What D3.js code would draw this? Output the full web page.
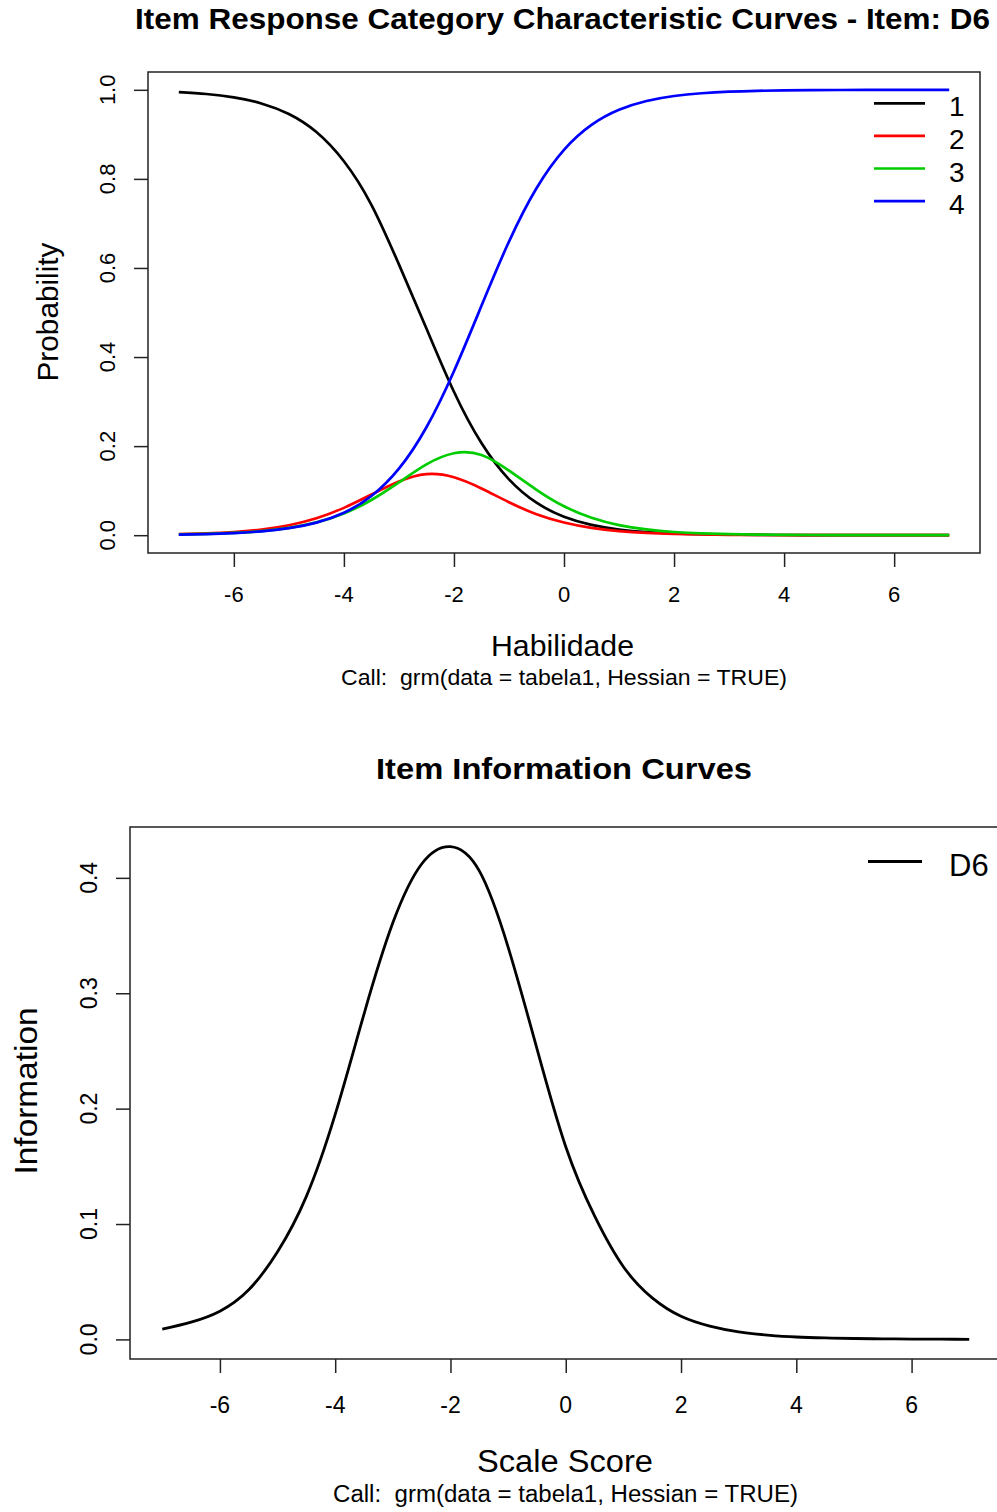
<!DOCTYPE html>
<html>
<head>
<meta charset="utf-8">
<script src="https://d3js.org/d3.v7.min.js"></script>
<style>
body { margin: 0; background: #fff; }
text { font-family: "Liberation Sans", Arial, sans-serif; fill: #000; white-space: pre; }
</style>
</head>
<body>
<svg width="997" height="1512"></svg>
<script>
// ability grid (read every half unit)
var theta = [-7,-6.5,-6,-5.5,-5,-4.5,-4,-3.5,-3,-2.5,-2,-1.5,-1,-0.5,0,0.5,1,1.5,2,2.5,3,3.5,4,4.5,5,5.5,6,6.5,7];

// category response curves, item D6
var cat1 = [0.9948,0.9906,0.9830,0.9694,0.9456,0.9052,0.8397,0.7419,0.6080,0.4641,0.3221,0.2068,0.1252,0.0729,0.0413,0.0231,0.0128,0.0071,0.0039,0.0021,0.0012,0.0006,0.0004,0.0002,0.0001,0.0001,0,0,0];
var cat2 = [0.0022,0.0040,0.0072,0.0127,0.0223,0.0379,0.0613,0.0912,0.1205,0.1370,0.1300,0.1049,0.0739,0.0471,0.0284,0.0164,0.0092,0.0051,0.0029,0.0016,0.0009,0.0005,0.0003,0.0001,0.0001,0,0,0,0];
var cat3 = [0.0016,0.0028,0.0051,0.0092,0.0164,0.0287,0.0488,0.0790,0.1185,0.1590,0.1840,0.1800,0.1450,0.1020,0.0650,0.0392,0.0227,0.0129,0.0072,0.0040,0.0022,0.0012,0.0007,0.0004,0.0002,0.0001,0.0001,0,0];
var cat4 = [0.0014,0.0026,0.0048,0.0087,0.0157,0.0282,0.0502,0.0879,0.1493,0.2423,0.3682,0.5150,0.6592,0.7790,0.8653,0.9213,0.9552,0.9749,0.9861,0.9923,0.9958,0.9977,0.9987,0.9993,0.9996,0.9998,0.9999,0.9999,1.0000];

// item information, D6
var info = [0.0089,0.0150,0.0245,0.0430,0.0760,0.1240,0.1950,0.2820,0.3610,0.4120,0.4270,0.4060,0.3400,0.2520,0.1670,0.1070,0.0630,0.0360,0.0200,0.0115,0.0065,0.0038,0.0021,0.0013,0.0008,0.0005,0.0003,0.0002,0.0001];

var catNames = ['1', '2', '3', '4'];
var catColors = ['#000000', '#ff0000', '#00cd00', '#0000ff'];
var xTicks = [-6, -4, -2, 0, 2, 4, 6];
var probTicks = [0, 0.2, 0.4, 0.6, 0.8, 1.0];
var infoTicks = [0, 0.1, 0.2, 0.3, 0.4];

var svg = d3.select('svg');

// R style 4% extension of the data range
function rExtent(vals) {
    var e = d3.extent(vals), pad = (e[1] - e[0]) * 0.04;
    return [e[0] - pad, e[1] + pad];
}

function addText(g, txt, x, y, size, opts) {
    opts = opts || {};
    var t = g.append('text')
        .attr('transform', 'translate(' + x + ',' + y + ')' + (opts.rotate ? ' rotate(-90)' : ''))
        .attr('text-anchor', opts.anchor || 'middle')
        .attr('xml:space', 'preserve')
        .style('font-size', size + 'px')
        .style('font-weight', opts.bold ? 'bold' : 'normal')
        .text(txt);
    if (opts.len) t.attr('textLength', opts.len).attr('lengthAdjust', 'spacingAndGlyphs');
    return t;
}

function drawPanel(cfg) {
    var g = svg.append('g');
    var x = d3.scaleLinear().domain(rExtent(theta)).range([cfg.left, cfg.right]);
    var y = d3.scaleLinear().domain(rExtent(d3.merge(cfg.series))).range([cfg.bottom, cfg.top]);

    var line = d3.line()
        .x(function(d, i) { return x(theta[i]); })
        .y(function(d) { return y(d); })
        .curve(d3.curveNatural);

    cfg.series.forEach(function(s, i) {
        g.append('path')
            .attr('d', line(s))
            .attr('fill', 'none')
            .attr('stroke', cfg.colors[i])
            .attr('stroke-width', cfg.lw)
            .attr('stroke-linejoin', 'round');
    });

    // x axis
    var xa = g.append('g')
        .attr('transform', 'translate(0,' + cfg.bottom + ')')
        .call(d3.axisBottom(x).tickValues(xTicks).tickSize(cfg.tick).tickFormat(''));
    xa.select('.domain').remove();
    xa.selectAll('line').attr('stroke', '#222').attr('stroke-width', 1.5);
    xTicks.forEach(function(v) {
        addText(g, String(v), x(v), cfg.xLabBase, cfg.tickFont);
    });

    // y axis
    var ya = g.append('g')
        .attr('transform', 'translate(' + cfg.left + ',0)')
        .call(d3.axisLeft(y).tickValues(cfg.yTicks).tickSize(cfg.tick).tickFormat(''));
    ya.select('.domain').remove();
    ya.selectAll('line').attr('stroke', '#222').attr('stroke-width', 1.5);
    cfg.yTicks.forEach(function(v) {
        addText(g, d3.format('.1f')(v), cfg.yLabBase, y(v), cfg.tickFont, {rotate: true});
    });

    // plot box
    g.append('rect')
        .attr('x', cfg.left).attr('y', cfg.top)
        .attr('width', cfg.right - cfg.left).attr('height', cfg.bottom - cfg.top)
        .attr('fill', 'none').attr('stroke', '#222').attr('stroke-width', 1.5);

    // legend
    cfg.names.forEach(function(n, i) {
        var ly = cfg.legY + i * 32.6;
        g.append('line')
            .attr('x1', cfg.legX1).attr('x2', cfg.legX2)
            .attr('y1', ly).attr('y2', ly)
            .attr('stroke', cfg.colors[i]).attr('stroke-width', cfg.lw);
        addText(g, n, cfg.legTextX, ly + cfg.legDy, cfg.legFont, {anchor: 'start'});
    });

    // titles
    addText(g, cfg.title, cfg.titleX, cfg.titleY, cfg.titleFont, {bold: true, len: cfg.titleLen});
    addText(g, cfg.xlab, cfg.xlabX, cfg.xlabY, cfg.labFont, {len: cfg.xlabLen});
    addText(g, cfg.ylab, cfg.ylabX, cfg.ylabY, cfg.labFont, {rotate: true, len: cfg.ylabLen});
    addText(g, 'Call:  grm(data = tabela1, Hessian = TRUE)', cfg.callX, cfg.callY, cfg.callFont, {len: cfg.callLen});
}

drawPanel({
    series: [cat1, cat2, cat3, cat4], colors: catColors, names: catNames, yTicks: probTicks,
    left: 148, right: 980, top: 72, bottom: 553, lw: 2.7, tick: 14,
    tickFont: 22, xLabBase: 601.5, yLabBase: 115,
    legX1: 874, legX2: 925, legY: 103.3, legTextX: 949, legDy: 13, legFont: 28,
    title: 'Item Response Category Characteristic Curves - Item: D6', titleX: 562.5, titleY: 29, titleFont: 29, titleLen: 855,
    xlab: 'Habilidade', xlabX: 562.5, xlabY: 656, xlabLen: 143,
    ylab: 'Probability', ylabX: 58, ylabY: 312, ylabLen: 139, labFont: 29,
    callX: 564, callY: 685, callFont: 22, callLen: 446
});

drawPanel({
    series: [info], colors: ['#000000'], names: ['D6'], yTicks: infoTicks,
    left: 130, right: 1001.5, top: 827, bottom: 1359, lw: 2.8, tick: 14,
    tickFont: 23, xLabBase: 1413, yLabBase: 97,
    legX1: 868, legX2: 922, legY: 861.5, legTextX: 949, legDy: 14.5, legFont: 31,
    title: 'Item Information Curves', titleX: 564, titleY: 779, titleFont: 30, titleLen: 376,
    xlab: 'Scale Score', xlabX: 565, xlabY: 1472, xlabLen: 176,
    ylab: 'Information', ylabX: 37, ylabY: 1091, ylabLen: 167, labFont: 31,
    callX: 565.5, callY: 1502, callFont: 23, callLen: 465
});
</script>
</body>
</html>
